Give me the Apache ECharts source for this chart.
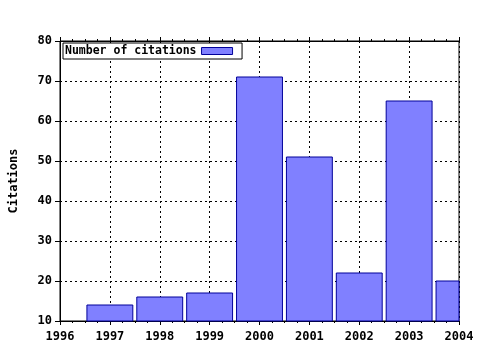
<!DOCTYPE html>
<html><head><meta charset="utf-8">
<script src="https://cdn.jsdelivr.net/npm/echarts@6/dist/echarts.min.js"></script>
<style>html,body{margin:0;padding:0;background:#fff}#c{width:480px;height:350px}</style>
</head><body><div id="c"></div>
<script>
const years = [1997, 1998, 1999, 2000, 2001, 2002, 2003, 2004];
const citations = [14, 16, 17, 71, 51, 22, 65, 20];
const seriesName = 'Number of citations';
const yTitle = 'Citations';

const font = 'DejaVu Sans Mono';
const fill = '#8080ff', edge = '#000099';
const chart = echarts.init(document.getElementById('c'));
const xCommon = {
  type: 'value', min: 1996, max: 2004, interval: 1,
  axisLine: {show: true, lineStyle: {color: '#000'}},
  axisTick: {show: true, length: 4, inside: false, lineStyle: {color: '#000'}},
  minorTick: {show: true, splitNumber: 4, length: 2, lineStyle: {color: '#000'}}
};
chart.setOption({
  animation: false,
  backgroundColor: '#fff',
  grid: {left: 58, right: 21, top: 41, bottom: 29, show: true, borderColor: '#000', borderWidth: 1},
  legend: {
    left: 63, top: 43, align: 'right', itemWidth: 31, itemHeight: 7, itemGap: 7,
    padding: [2, 9, 2, 2],
    borderColor: '#000', borderWidth: 1, backgroundColor: '#fff',
    itemStyle: {color: fill, borderColor: edge, borderWidth: 1},
    textStyle: {fontFamily: font, fontWeight: 'bold', fontSize: 11.5, color: '#000'},
    data: [{name: seriesName, icon: 'rect'}]
  },
  xAxis: [
    Object.assign({}, xCommon, {
      position: 'bottom',
      axisLabel: {fontFamily: font, fontWeight: 'bold', fontSize: 12, color: '#000', margin: 10,
                  formatter: v => String(v)},
      splitLine: {show: true, lineStyle: {color: '#000', type: [2, 3]}}
    }),
    Object.assign({}, xCommon, {
      position: 'top',
      axisLabel: {show: false},
      splitLine: {show: false}
    })
  ],
  yAxis: {
    type: 'value', min: 10, max: 80, interval: 10,
    name: yTitle, nameLocation: 'middle', nameGap: 40, nameRotate: 90,
    nameTextStyle: {fontFamily: font, fontWeight: 'bold', fontSize: 12, color: '#000'},
    axisLine: {show: true, lineStyle: {color: '#000'}},
    axisTick: {show: true, length: 5, lineStyle: {color: '#000'}},
    axisLabel: {fontFamily: font, fontWeight: 'bold', fontSize: 12, color: '#000', margin: 8},
    splitLine: {show: true, lineStyle: {color: '#000', type: [2, 3]}}
  },
  series: [{
    name: seriesName, type: 'custom', xAxisIndex: 0,
    itemStyle: {color: fill, borderColor: edge, borderWidth: 1},
    data: years.map((y, i) => [y, citations[i]]),
    renderItem: function (params, api) {
      const x = api.value(0), v = api.value(1);
      const base = api.coord([x, 10]);
      const top = api.coord([x, v]);
      const w = api.size([1, 0])[0] * 0.92;
      const cs = params.coordSys;
      const rect = echarts.graphic.clipRectByRect(
        {x: top[0] - w / 2, y: top[1], width: w, height: base[1] - top[1]},
        {x: cs.x, y: cs.y, width: cs.width, height: cs.height}
      );
      if (!rect) return null;
      return {type: 'rect', shape: rect,
              style: {fill: fill, stroke: edge, lineWidth: 1}};
    }
  }]
});
</script></body></html>
